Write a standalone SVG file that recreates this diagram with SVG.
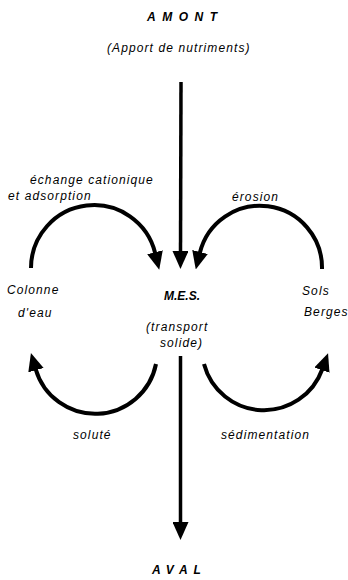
<svg xmlns="http://www.w3.org/2000/svg" width="348" height="580" viewBox="0 0 348 580">
<style>
  text { font-family: "Liberation Sans", Arial, sans-serif; font-style: italic; font-size: 12px; fill: #000; letter-spacing: 1.1px; }
  .b { font-weight: bold; }
  .title { font-weight: bold; letter-spacing: 6.5px; }
  .mid { text-anchor: middle; }
  .flow { fill: none; stroke: #000; stroke-width: 4; marker-end: url(#head); }
  .axis { fill: none; stroke: #000; stroke-width: 3.5; marker-end: url(#head); }
</style>
<defs>
  <marker id="head" viewBox="0 0 18 16" refX="1" refY="8" markerWidth="18" markerHeight="16" markerUnits="userSpaceOnUse" orient="auto">
    <path d="M0,0 L18,8 L0,16 Z" fill="#000"/>
  </marker>
</defs>
<rect width="348" height="580" fill="#fff"/>

<g id="amont">
  <text class="title" x="147" y="21">AMONT</text>
  <text x="107" y="52">(Apport de nutriments)</text>
</g>
<g id="colonne">
  <text x="7" y="294">Colonne</text>
  <text x="18" y="317">d'eau</text>
</g>
<g id="mes">
  <text class="b" x="164" y="300" style="letter-spacing:0">M.E.S.</text>
  <text x="146" y="331">(transport</text>
  <text x="160" y="347">solide)</text>
</g>
<g id="sols">
  <text x="302" y="295">Sols</text>
  <text x="304" y="316">Berges</text>
</g>
<g id="aval">
  <text class="title" x="152" y="574" style="letter-spacing:6px">AVAL</text>
</g>

<g id="connectors">
  <path class="axis" d="M181,82 L180.5,252"/>
  <path class="axis" d="M180.5,356 L180.5,523"/>
  <path class="flow" d="M31,268 A63,63 0 0 1 155.2,253.2"/>
  <path class="flow" d="M322,269 A62,62 0 0 0 199.8,253"/>
  <path class="flow" d="M156,364 A62,62 0 0 1 35.7,369.2"/>
  <path class="flow" d="M204,364 A62,62 0 0 0 322.3,369.2"/>
  <text x="30" y="184">échange cationique</text>
  <text x="8" y="200">et adsorption</text>
  <text x="232" y="201">érosion</text>
  <text x="73" y="439">soluté</text>
  <text x="221" y="439">sédimentation</text>
</g>
</svg>
